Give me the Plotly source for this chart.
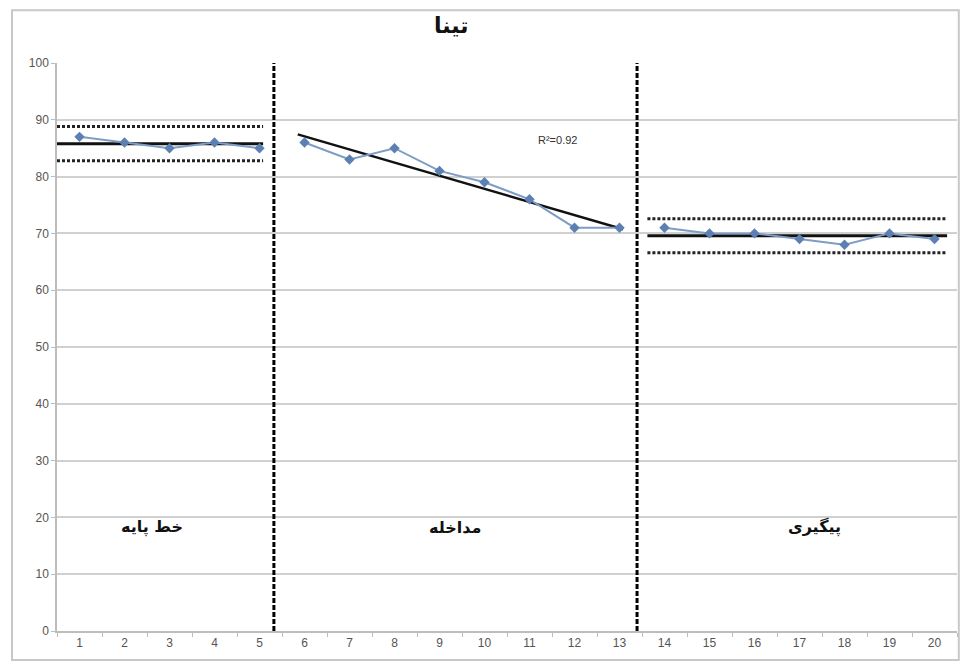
import numpy as np
import plotly.graph_objects as go

# Session scores by phase
baseline_sessions = [1, 2, 3, 4, 5]
baseline_scores = [87, 86, 85, 86, 85]
intervention_sessions = [6, 7, 8, 9, 10, 11, 12, 13]
intervention_scores = [86, 83, 85, 81, 79, 76, 71, 71]
followup_sessions = [14, 15, 16, 17, 18, 19, 20]
followup_scores = [71, 70, 70, 69, 68, 70, 69]

phase_names = ["خط پایه", "مداخله", "پیگیری"]
phase_breaks = [5.32, 13.39]
band_half_width = 3.0
title_text = "تینا"

sessions = baseline_sessions + intervention_sessions + followup_sessions
scores = baseline_scores + intervention_scores + followup_scores

data_color = "#7d9cc6"
marker_color = "#5d80b3"
grid_color = "#d0d0d0"
text_color = "#555555"

fig = go.Figure()

# Level and stability band for the stable phases
def level_band(x0, x1, values):
    m = float(np.mean(values))
    fig.add_trace(go.Scatter(x=[x0, x1], y=[m, m], mode="lines",
                             line=dict(color="#111111", width=3), hoverinfo="skip"))
    for off in (band_half_width, -band_half_width):
        fig.add_trace(go.Scatter(x=[x0, x1], y=[m + off, m + off], mode="lines",
                                 line=dict(color="#222222", width=3, dash="3px,2px"),
                                 hoverinfo="skip"))

level_band(0.5, 5.08, baseline_scores)
level_band(13.62, 20.28, followup_scores)

# Least-squares trend for the intervention phase
slope, intercept = np.polyfit(intervention_sessions, intervention_scores, 1)
pred = slope * np.array(intervention_sessions) + intercept
ss_res = np.sum((np.array(intervention_scores) - pred) ** 2)
ss_tot = np.sum((np.array(intervention_scores) - np.mean(intervention_scores)) ** 2)
r2 = 1 - ss_res / ss_tot
tx = np.array([5.85, 13.08])
fig.add_trace(go.Scatter(x=tx, y=slope * tx + intercept, mode="lines",
                         line=dict(color="#111111", width=2.5), hoverinfo="skip"))

# Observed scores per phase
for xs, ys in ((baseline_sessions, baseline_scores),
               (intervention_sessions, intervention_scores),
               (followup_sessions, followup_scores)):
    fig.add_trace(go.Scatter(x=xs, y=ys, mode="lines+markers",
                             line=dict(color=data_color, width=2),
                             marker=dict(symbol="diamond", size=8, color=marker_color)))

# Phase change lines
for xb in phase_breaks:
    fig.add_shape(type="line", x0=xb, x1=xb, y0=0, y1=100, xref="x", yref="y",
                  line=dict(color="#000000", width=3, dash="5px,2px"))

# Phase labels
for name, xc in zip(phase_names, [2.6, 9.35, 17.33]):
    fig.add_annotation(x=xc, y=18.3, text=f"<b>{name}</b>", showarrow=False,
                       font=dict(family="DejaVu Sans", size=16, color="#111111"))

r2_shown = np.floor(r2 * 100) / 100
fig.add_annotation(x=11.63, y=86.4, text=f"R²={r2_shown:.2f}", showarrow=False,
                   font=dict(family="Liberation Sans", size=11, color="#333333"))

# Outer chart border
fig.add_shape(type="rect", xref="paper", yref="paper", x0=-0.05, x1=1.002,
              y0=-0.051, y1=1.093, line=dict(color="#c8c8c8", width=2), layer="below")

fig.update_layout(
    width=960, height=662,
    margin=dict(l=57, r=3, t=63, b=31),
    paper_bgcolor="white", plot_bgcolor="white",
    showlegend=False,
    title=dict(text=f"<b>{title_text}</b>", x=0.47, xanchor="center", y=0.962,
               yanchor="middle",
               font=dict(family="DejaVu Sans", size=22, color="#111111")),
    xaxis=dict(range=[0.5, 20.5], tickmode="array", tickvals=sessions,
               ticktext=[str(s) for s in sessions], ticks="", showgrid=False,
               zeroline=False, showline=True, linecolor="#bdbdbd", linewidth=1.5,
               tickfont=dict(family="Liberation Sans", size=12, color=text_color),
               minor=dict(tick0=0.5, dtick=1, ticks="outside", ticklen=4,
                          tickcolor="#bdbdbd", showgrid=False)),
    yaxis=dict(range=[0, 100], tickmode="linear", tick0=0, dtick=10,
               showgrid=True, gridcolor=grid_color, gridwidth=1.5,
               zeroline=False, showline=True, linecolor="#bdbdbd", linewidth=1.5,
               ticks="outside", ticklen=4, tickcolor="#bdbdbd",
               tickfont=dict(family="Liberation Sans", size=12, color=text_color)),
)

fig.write_html("out.html")
